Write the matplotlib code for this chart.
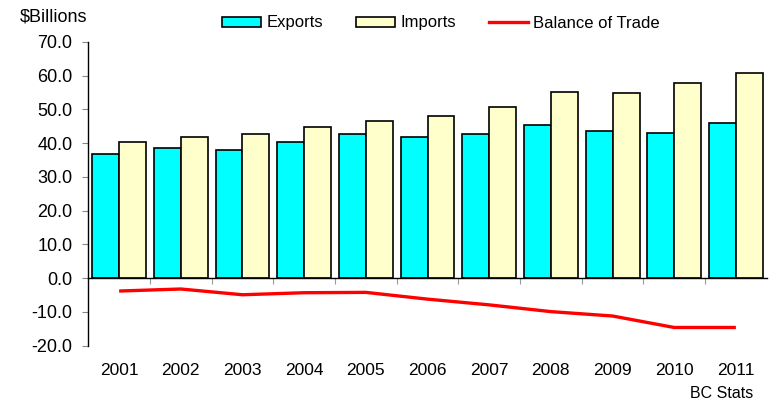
import matplotlib
matplotlib.use("Agg")
import matplotlib.pyplot as plt
import numpy as np
from matplotlib.patches import Patch
from matplotlib.lines import Line2D

years = ["2001", "2002", "2003", "2004", "2005", "2006", "2007", "2008", "2009", "2010", "2011"]
exports = [36.8, 38.6, 37.9, 40.4, 42.7, 41.8, 42.8, 45.3, 43.6, 43.1, 46.0]
imports = [40.3, 41.8, 42.8, 44.7, 46.7, 48.1, 50.7, 55.3, 54.8, 57.8, 60.7]
balance = [-3.8, -3.2, -4.9, -4.3, -4.2, -6.2, -7.9, -9.9, -11.2, -14.6, -14.6]
yticks = [-20, -10, 0, 10, 20, 30, 40, 50, 60, 70]

plt.rcParams['font.family'] = ['Liberation Sans', 'DejaVu Sans']

fig = plt.figure(figsize=(7.7, 4.04), dpi=100)
ax = fig.add_axes([88.3/770, 1-345.7/404, (766.7-88.3)/770, (345.7-42)/404])

x = np.arange(len(years))
w = 0.4375
ax.bar(x - w/2, exports, width=w, color="#00FFFF", edgecolor="black", linewidth=1.2, zorder=3)
ax.bar(x + w/2, imports, width=w, color="#FFFFCC", edgecolor="black", linewidth=1.2, zorder=3)
ax.plot(x, balance, color="#FF0000", linewidth=2.4, zorder=4, solid_capstyle="butt")

ax.set_xlim(-0.5, len(years) - 0.5)
ax.set_ylim(-20, 70)
ax.set_yticks(yticks)
ax.set_yticklabels([f"{v:.1f}" for v in yticks])
ax.tick_params(axis='y', length=4, width=0.8, pad=7.5, color="#888888", labelsize=13)

ax.set_xticks(x)
ax.set_xticklabels(years)
ax.tick_params(axis='x', which='major', length=0, pad=61, labelsize=12.5)
ax.set_xticks(np.arange(0.5, len(years) - 0.5, 1.0), minor=True)
ax.tick_params(axis='x', which='minor', length=4, width=0.8, color="#999999")

for s in ["top", "right"]:
    ax.spines[s].set_visible(False)
ax.spines["bottom"].set_position(("data", 0))
ax.spines["bottom"].set_linewidth(1.0)
ax.spines["left"].set_linewidth(1.0)
ax.spines["bottom"].set_zorder(5)

fig.text(20/770, 1-17/404, "$Billions", fontsize=13, ha="left", va="center")
fig.text(753/770, 1-394/404, "BC Stats", fontsize=11.5, ha="right", va="center")

handles = [Patch(facecolor="#00FFFF", edgecolor="black", linewidth=1.2),
           Patch(facecolor="#FFFFCC", edgecolor="black", linewidth=1.2),
           Line2D([0], [0], color="#FF0000", linewidth=2.4)]
fig.legend(handles, ["Exports", "Imports", "Balance of Trade"], loc="center",
           bbox_to_anchor=(441/770, 1-23/404), ncol=3, frameon=False, fontsize=12,
           handlelength=2.33, handleheight=0.55, columnspacing=2.0, handletextpad=0.3)

fig.savefig("out.png", dpi=100)
